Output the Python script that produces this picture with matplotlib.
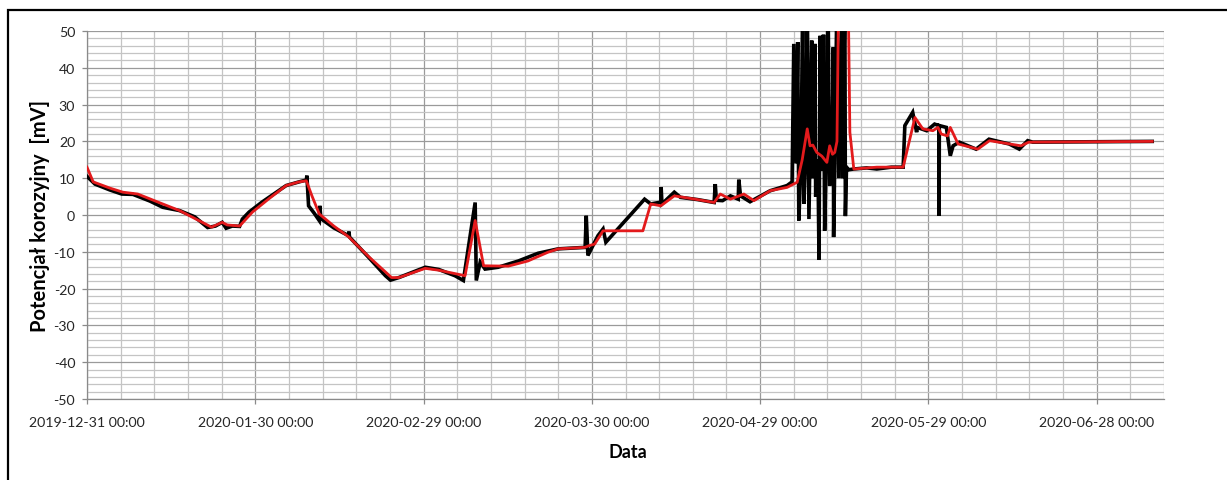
import datetime as dt
import matplotlib
matplotlib.use("Agg")
import matplotlib.pyplot as plt
import matplotlib.dates as mdates
from matplotlib.patches import Rectangle
import numpy as np

plt.rcParams['font.family'] = ['Lato', 'DejaVu Sans']
plt.rcParams['axes.unicode_minus'] = False

START = dt.datetime(2019, 12, 31)

# Measured corrosion potential: (days since 2019-12-31, mV)
measured_days = [
    0, 1.42, 4.08, 6.2, 8.2, 11.2, 13.5, 16.5, 19.2, 21.5, 22.9, 24.1, 24.8, 25.9,
    27.2, 27.7, 28.9, 31.2, 35.5, 37.8, 39.1, 39.2, 39.5, 40.5, 41.4, 41.5, 41.7,
    44.0, 46.6, 46.7, 46.8, 50.2, 53.2, 54.1, 55.6, 60.3, 62.7, 65.6, 67.1, 69.2,
    69.4, 70.1, 70.96, 73.3, 76.9, 80.4, 84.0, 88.8, 89.0, 89.3, 91.1, 92.0, 92.5,
    99.4, 100.5, 102.3, 102.35, 102.5, 104.7, 105.8, 108.8, 111.8, 112.0, 112.2,
    113.3, 114.7, 116.1, 116.2, 116.5, 118.2, 121.8, 124.8, 125.7,
    126.0, 126.4, 126.7, 126.9, 127.3, 127.6, 127.8, 128.2, 128.4, 128.7, 128.9,
    129.2, 129.4, 129.8, 129.9, 130.3, 130.5, 130.7, 131.0, 131.3, 131.5, 131.8,
    132.1, 132.4, 132.8, 133.05, 133.1, 133.3, 133.7, 134.0, 134.6, 134.7, 135.1,
    135.2, 135.4, 135.8,
    136.7, 139.0, 140.8, 143.4, 145.5, 145.8, 147.2, 147.9, 148.0, 149.7, 151.1,
    151.85, 151.9, 151.95, 153.2, 153.9, 154.4, 155.5, 158.5, 160.8, 164.4, 166.2,
    167.7, 168.6, 189.9,
]
measured_mv = [
    10.5, 8.4, 6.8, 5.7, 5.6, 3.8, 2.1, 1.2, -0.5, -3.4, -3.0, -2.0, -3.6, -3.0,
    -3.1, -1.1, 0.8, 3.5, 8.0, 9.0, 9.5, 10.7, 2.5, 0.5, -1.5, 2.5, -1.0,
    -3.5, -5.6, -4.5, -6.0, -11.5, -16.5, -17.7, -17.0, -14.2, -14.8, -16.5, -17.8, 3.4,
    -17.8, -12.8, -14.7, -14.2, -12.5, -10.4, -9.2, -8.8, -0.2, -11.0, -5.6, -3.8, -7.4,
    4.3, 3.0, 3.5, 7.6, 3.0, 6.2, 4.8, 4.2, 3.4, 8.4, 4.0,
    3.9, 5.2, 4.3, 9.6, 5.2, 3.6, 6.6, 8.0, 9.0,
    46.5, 14, 47, -1.5, 15, 60, 3, 20, 60, -1.1, 18,
    47.4, 10, 46.5, 5, 15, -12.2, 48.7, 12, 49, -4.3, 16,
    60, 8, 14, 45.6, -6, 14, 60, 10, 60, 10, 60,
    -0.3, 13, 12.3,
    12.5, 12.8, 12.5, 13.0, 13.0, 24.3, 27.9, 22.5, 23.8, 22.9, 24.7,
    24.3, -0.2, 24.3, 23.8, 16.1, 18.8, 19.8, 17.9, 20.6, 19.3, 17.9,
    20.2, 19.8, 20.0,
]

# Smoothed corrosion potential: (days since 2019-12-31, mV)
smoothed_days = [
    0, 1.1, 4.1, 6.4, 9.05, 13.0, 16.5, 22.2, 24.1, 25.0, 27.2, 29.5, 32.5, 35.5,
    37.8, 39.1, 40.1, 41.4, 44.0, 46.7, 50.2, 54.3, 55.6, 60.3, 62.7, 67.4, 69.2,
    70.7, 75.1, 78.6, 82.2, 84.0, 88.7, 89.6, 90.5, 92.0, 99.1, 100.5, 102.3, 104.7,
    108.8, 111.8, 112.9, 114.7, 117.1, 118.9, 121.8, 124.8, 126.6, 127.5, 128.4,
    128.9, 129.4, 130.1, 131.0, 131.9, 132.4, 132.9, 133.3, 133.7, 134.0, 135.7,
    136.0, 136.7, 140.8, 145.5, 147.6, 149.0, 150.8, 151.7, 152.3, 153.4, 153.9,
    155.3, 158.8, 160.9, 166.5, 167.9, 189.9,
]
smoothed_mv = [
    13.0, 9.0, 7.3, 6.2, 5.7, 3.3, 1.2, -3.3, -2.0, -2.7, -3.0, 0.8, 4.5, 8.0,
    9.0, 9.3, 5.2, 0.3, -3.0, -6.0, -11.3, -17.0, -17.0, -14.5, -15.0, -16.5, -1.5,
    -13.8, -13.9, -12.5, -10.1, -9.2, -8.8, -8.3, -7.9, -4.3, -4.3, 3.0, 2.5, 5.2,
    4.2, 3.4, 5.7, 4.3, 5.7, 3.9, 6.6, 7.5, 8.9, 15.0, 23.4,
    18.8, 19.0, 17.0, 16.0, 14.3, 18.8, 16.5, 17.0, 20.0, 60.0, 60.0,
    22.5, 12.5, 13.0, 13.0, 26.5, 23.4, 22.9, 23.8, 22.0, 21.5, 23.8,
    19.3, 17.9, 20.2, 18.8, 19.8, 20.0,
]

tick_offsets = [0, 30, 60, 90, 120, 150, 180]
y_ticks = list(range(-50, 51, 10))


def to_dates(days):
    return [START + dt.timedelta(days=float(d)) for d in days]


fig = plt.figure(figsize=(12.27, 4.81), dpi=100)
ax = fig.add_axes([87 / 1227, 1 - 400 / 481, (1164 - 87) / 1227, (400 - 32) / 481])

ax.plot(to_dates(measured_days), measured_mv, color='black', lw=2.6,
        solid_joinstyle='miter', zorder=3)
ax.plot(to_dates(smoothed_days), smoothed_mv, color='#e31a1c', lw=2.0, zorder=4)

x0 = mdates.date2num(START)
ax.set_xlim(x0, x0 + 192)
ax.set_ylim(-50, 50)

ax.set_xticks([x0 + d for d in tick_offsets])
ax.xaxis.set_major_formatter(mdates.DateFormatter('%Y-%m-%d %H:%M'))
ax.set_xticks([x0 + d for d in range(0, 193, 6)], minor=True)
ax.set_yticks(y_ticks)
ax.set_yticks(np.arange(-50, 51, 2), minor=True)

ax.grid(which='major', color='#9a9a9a', lw=0.9, zorder=0)
ax.grid(which='minor', color='#c4c4c4', lw=0.9, zorder=0)
ax.set_axisbelow(True)

for side in ('top', 'right'):
    ax.spines[side].set_visible(False)
for side in ('left', 'bottom'):
    ax.spines[side].set_color('#8a8a8a')
    ax.spines[side].set_linewidth(0.9)

ax.tick_params(which='major', length=3.5, width=0.9, color='#8a8a8a',
               labelsize=10.2, labelcolor='#262626')
ax.tick_params(axis='x', pad=9)
ax.tick_params(axis='y', pad=5)
ax.tick_params(which='minor', length=0)

ax.set_xlabel('Data', fontsize=13, fontweight='bold')
ax.set_ylabel('Potencjał korozyjny  [mV]', fontsize=14.5, fontweight='bold')
ax.xaxis.set_label_coords((628 - 87) / 1077, (400 - 453) / 368)
ax.yaxis.set_label_coords((40 - 87) / 1077, 0.5)
ax.xaxis.label.set_va('center')
ax.yaxis.label.set_va('center')

fig.add_artist(Rectangle((8 / 1227, -0.2), 1.2, 0.2 + (1 - 11 / 481),
                         transform=fig.transFigure, fill=False,
                         edgecolor='black', lw=1.6))

fig.savefig('out.png', dpi=100)
